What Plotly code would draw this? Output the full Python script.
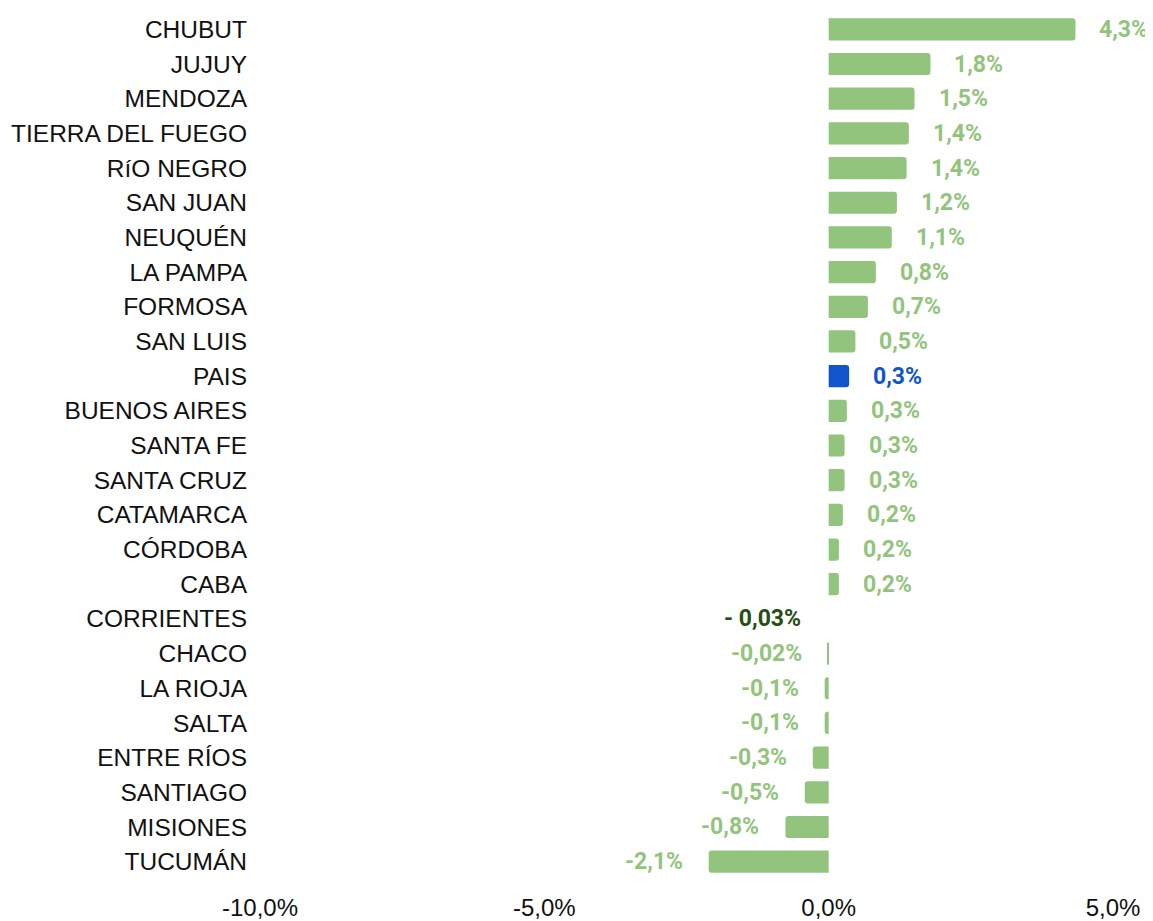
import plotly.graph_objects as go

provincias = ["CHUBUT", "JUJUY", "MENDOZA", "TIERRA DEL FUEGO", "RíO NEGRO", "SAN JUAN",
              "NEUQUÉN", "LA PAMPA", "FORMOSA", "SAN LUIS", "PAIS", "BUENOS AIRES",
              "SANTA FE", "SANTA CRUZ", "CATAMARCA", "CÓRDOBA", "CABA", "CORRIENTES",
              "CHACO", "LA RIOJA", "SALTA", "ENTRE RÍOS", "SANTIAGO", "MISIONES", "TUCUMÁN"]
valores = [4.34, 1.79, 1.51, 1.41, 1.37, 1.2, 1.11, 0.83, 0.69, 0.47, 0.36, 0.32,
           0.28, 0.28, 0.25, 0.18, 0.18, -0.03, -0.02, -0.07, -0.07, -0.28, -0.42, -0.76, -2.11]
etiquetas = ["4,3%", "1,8%", "1,5%", "1,4%", "1,4%", "1,2%", "1,1%", "0,8%", "0,7%", "0,5%",
             "0,3%", "0,3%", "0,3%", "0,3%", "0,2%", "0,2%", "0,2%", "- 0,03%", "-0,02%",
             "-0,1%", "-0,1%", "-0,3%", "-0,5%", "-0,8%", "-2,1%"]
tick_vals = [-10, -5, 0, 5]
tick_text = ["-10,0%", "-5,0%", "0,0%", "5,0%"]

GREEN = "#93C47D"
BLUE = "#1155CC"
DARK = "#274E13"

bar_colors = []
label_colors = []
for p in provincias:
    if p == "PAIS":
        bar_colors.append(BLUE)
        label_colors.append(BLUE)
    elif p == "CORRIENTES":
        bar_colors.append("rgba(0,0,0,0)")
        label_colors.append(DARK)
    else:
        bar_colors.append(GREEN)
        label_colors.append(GREEN)

fig = go.Figure(go.Bar(
    x=valores, y=provincias, orientation="h",
    marker=dict(color=bar_colors, cornerradius=3, line=dict(width=0)),
    width=0.64, hoverinfo="skip",
))

for p, v, t, c in zip(provincias, valores, etiquetas, label_colors):
    pos = v >= 0
    fig.add_annotation(
        x=v, y=p, text=f"<b>{t}</b>", showarrow=False,
        xanchor="left" if pos else "right",
        xshift=22 if pos else -24,
        font=dict(family="Roboto", size=23, color=c),
    )

fig.update_layout(
    width=1153, height=921,
    margin=dict(l=252, r=48, t=4, b=50),
    plot_bgcolor="white", paper_bgcolor="white",
    showlegend=False,
    xaxis=dict(range=[-10, 5], tickvals=tick_vals, ticktext=tick_text,
               showgrid=False, zeroline=False, showline=False, automargin=False,
               tickfont=dict(family="Liberation Sans, Arial", size=24, color="#111"),
               ticklabelstandoff=12),
    yaxis=dict(categoryorder="array", categoryarray=provincias[::-1],
               range=[-0.5, len(provincias) - 0.5], automargin=False,
               showgrid=False, zeroline=False, showline=False,
               tickfont=dict(family="Liberation Sans, Arial", size=24.5, color="#111"),
               ticklabelstandoff=12),
)

fig.write_html("out.html")
